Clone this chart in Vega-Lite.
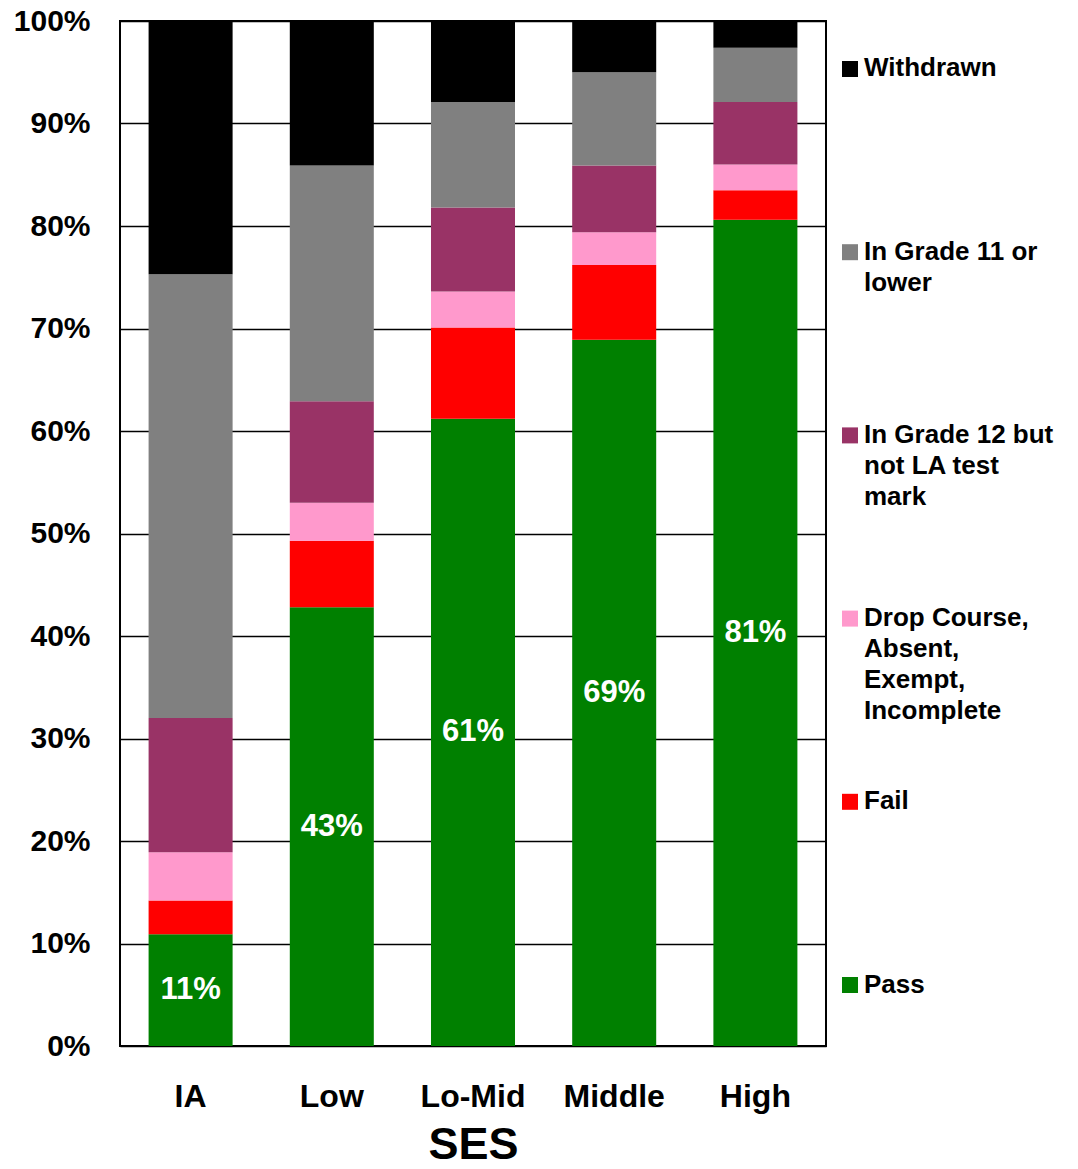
{
  "$schema": "https://vega.github.io/schema/vega-lite/v6.json",
  "background": "white",
  "padding": {"left": 12, "top": 5, "right": 0, "bottom": 0},
  "config": {
    "font": "Liberation Sans",
    "view": {"stroke": "black", "strokeWidth": 2},
    "concat": {"spacing": 15}
  },
  "datasets": {
    "bars": [
      {"SES": "IA", "status": "Pass", "share": 0.109},
      {"SES": "IA", "status": "Fail", "share": 0.033},
      {"SES": "IA", "status": "Drop Course, Absent, Exempt, Incomplete", "share": 0.047},
      {"SES": "IA", "status": "In Grade 12 but not LA test mark", "share": 0.131},
      {"SES": "IA", "status": "In Grade 11 or lower", "share": 0.433},
      {"SES": "IA", "status": "Withdrawn", "share": 0.247},
      {"SES": "Low", "status": "Pass", "share": 0.428},
      {"SES": "Low", "status": "Fail", "share": 0.065},
      {"SES": "Low", "status": "Drop Course, Absent, Exempt, Incomplete", "share": 0.037},
      {"SES": "Low", "status": "In Grade 12 but not LA test mark", "share": 0.099},
      {"SES": "Low", "status": "In Grade 11 or lower", "share": 0.230},
      {"SES": "Low", "status": "Withdrawn", "share": 0.141},
      {"SES": "Lo-Mid", "status": "Pass", "share": 0.612},
      {"SES": "Lo-Mid", "status": "Fail", "share": 0.089},
      {"SES": "Lo-Mid", "status": "Drop Course, Absent, Exempt, Incomplete", "share": 0.035},
      {"SES": "Lo-Mid", "status": "In Grade 12 but not LA test mark", "share": 0.082},
      {"SES": "Lo-Mid", "status": "In Grade 11 or lower", "share": 0.103},
      {"SES": "Lo-Mid", "status": "Withdrawn", "share": 0.079},
      {"SES": "Middle", "status": "Pass", "share": 0.689},
      {"SES": "Middle", "status": "Fail", "share": 0.073},
      {"SES": "Middle", "status": "Drop Course, Absent, Exempt, Incomplete", "share": 0.032},
      {"SES": "Middle", "status": "In Grade 12 but not LA test mark", "share": 0.065},
      {"SES": "Middle", "status": "In Grade 11 or lower", "share": 0.091},
      {"SES": "Middle", "status": "Withdrawn", "share": 0.050},
      {"SES": "High", "status": "Pass", "share": 0.806},
      {"SES": "High", "status": "Fail", "share": 0.029},
      {"SES": "High", "status": "Drop Course, Absent, Exempt, Incomplete", "share": 0.025},
      {"SES": "High", "status": "In Grade 12 but not LA test mark", "share": 0.061},
      {"SES": "High", "status": "In Grade 11 or lower", "share": 0.053},
      {"SES": "High", "status": "Withdrawn", "share": 0.026}
    ],
    "legend": [
      {"status": "Withdrawn", "label": "Withdrawn"},
      {"status": "In Grade 11 or lower", "label": "In Grade 11 or\nlower"},
      {"status": "In Grade 12 but not LA test mark", "label": "In Grade 12 but\nnot LA test\nmark"},
      {"status": "Drop Course, Absent, Exempt, Incomplete", "label": "Drop Course,\nAbsent,\nExempt,\nIncomplete"},
      {"status": "Fail", "label": "Fail"},
      {"status": "Pass", "label": "Pass"}
    ]
  },
  "hconcat": [
    {
      "width": 706,
      "height": 1025,
      "data": {"name": "bars"},
      "layer": [
        {
          "transform": [{"window": [{"op": "row_number", "as": "stackRank"}], "groupby": ["SES"]}],
          "mark": {"type": "bar"},
          "encoding": {
            "x": {
              "field": "SES", "type": "nominal",
              "sort": ["IA", "Low", "Lo-Mid", "Middle", "High"],
              "scale": {"paddingInner": 0.405, "paddingOuter": 0.2025},
              "axis": {
                "title": "SES", "titleFontSize": 45, "titleFontWeight": "bold", "titleColor": "black", "titlePadding": 10,
                "labelAngle": 0, "labelFontSize": 32, "labelFontWeight": "bold", "labelColor": "black", "labelPadding": 35,
                "ticks": false, "domain": false, "grid": false
              }
            },
            "y": {
              "field": "share", "type": "quantitative", "stack": "zero",
              "scale": {"domain": [0, 1], "nice": false},
              "axis": {
                "title": null, "format": ".0%", "values": [0, 0.1, 0.2, 0.3, 0.4, 0.5, 0.6, 0.7, 0.8, 0.9, 1],
                "labelFontSize": 30, "labelFontWeight": "bold", "labelColor": "black", "labelPadding": 30,
                "ticks": false, "domain": false, "grid": true, "gridColor": "black", "gridWidth": 1.5, "gridOpacity": 1
              }
            },
            "order": {"field": "stackRank", "type": "quantitative"},
            "color": {
              "field": "status", "type": "nominal",
              "scale": {
                "domain": ["Pass", "Fail", "Drop Course, Absent, Exempt, Incomplete", "In Grade 12 but not LA test mark", "In Grade 11 or lower", "Withdrawn"],
                "range": ["#008000", "#FF0000", "#FF99CC", "#993366", "#808080", "#000000"]
              },
              "legend": null
            }
          }
        },
        {
          "transform": [{"filter": "datum.status === 'Pass'"}],
          "mark": {"type": "text", "color": "white", "fontSize": 31, "fontWeight": "bold", "align": "center", "baseline": "middle"},
          "encoding": {
            "x": {"field": "SES", "type": "nominal", "sort": ["IA", "Low", "Lo-Mid", "Middle", "High"]},
            "y": {"field": "share", "type": "quantitative", "scale": {"domain": [0, 2], "nice": false}, "axis": null},
            "text": {"field": "share", "type": "quantitative", "format": ".0%"}
          }
        }
      ],
      "resolve": {"scale": {"y": "independent"}}
    },
    {
      "width": 16,
      "height": 1012,
      "view": {"stroke": null},
      "data": {"name": "legend"},
      "layer": [
        {
          "mark": {"type": "square", "size": 256, "opacity": 1, "filled": true},
          "encoding": {
            "y": {"field": "status", "type": "nominal", "sort": null, "scale": {"type": "point", "padding": 0.262}, "axis": null},
            "color": {"field": "status", "type": "nominal", "legend": null}
          }
        },
        {
          "mark": {"type": "text", "align": "left", "baseline": "line-top", "lineBreak": "\n", "lineHeight": 31, "dx": 14, "dy": -15.5, "fontSize": 26, "fontWeight": "bold", "color": "black"},
          "encoding": {
            "y": {"field": "status", "type": "nominal", "sort": null, "scale": {"type": "point", "padding": 0.262}, "axis": null},
            "text": {"field": "label"}
          }
        }
      ]
    }
  ]
}
